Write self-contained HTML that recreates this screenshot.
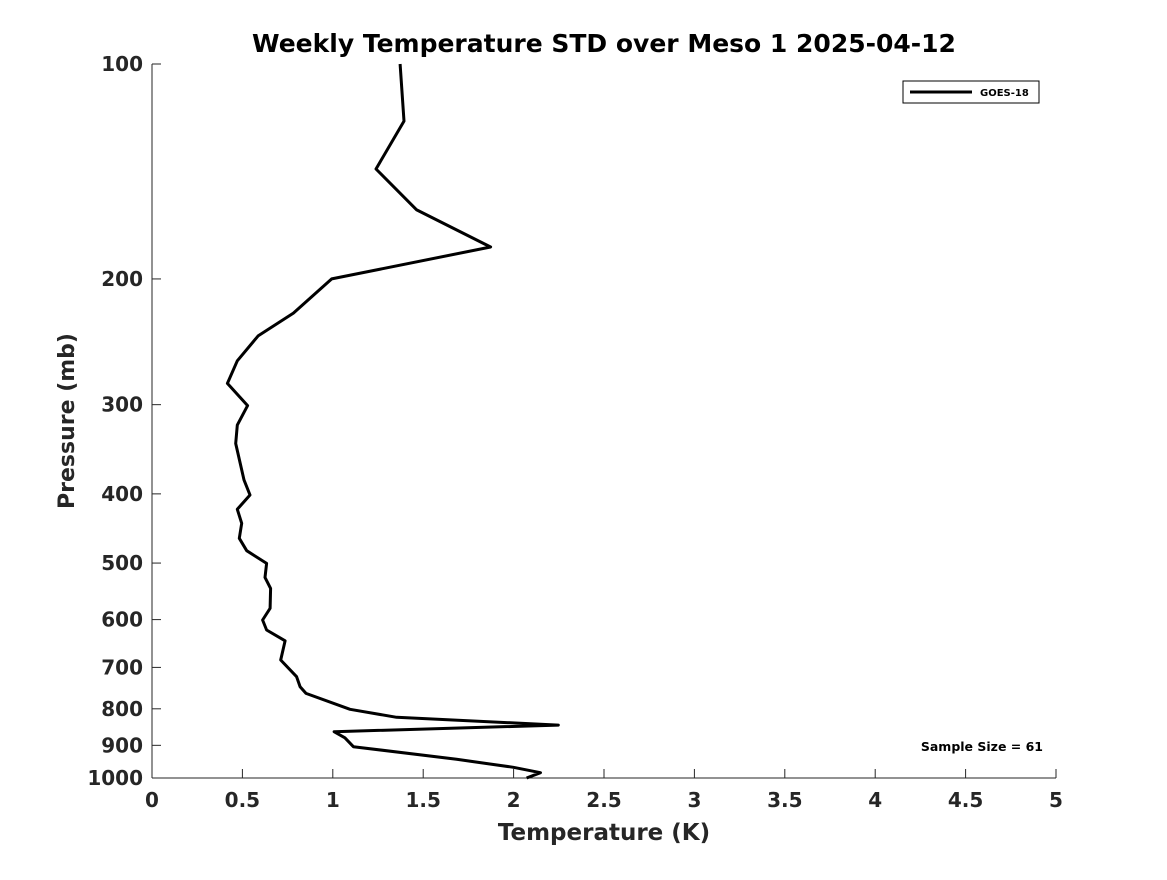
<!DOCTYPE html>
<html><head><meta charset="utf-8"><style>
body{margin:0;background:#fff;}
svg text{font-family:"DejaVu Sans","Liberation Sans",sans-serif;font-weight:bold;fill:#262626;}
</style></head><body>
<svg width="1167" height="875" xmlns="http://www.w3.org/2000/svg">
<rect width="1167" height="875" fill="#fff"/>
<text x="604" y="52" text-anchor="middle" font-size="25" style="fill:#000">Weekly Temperature STD over Meso 1 2025-04-12</text>
<g id="axes"></g>
<g id="series"></g>
<g>
<rect x="903" y="81" width="136" height="22" fill="#fff" stroke="#000" stroke-width="1"/>
<line x1="910" y1="92" x2="972" y2="92" stroke="#000" stroke-width="3"/>
<text x="980" y="96" font-size="10" style="fill:#000">GOES-18</text>
</g>
<text x="1043" y="751" text-anchor="end" font-size="12.5" style="fill:#000">Sample Size = 61</text>
<text x="604" y="840" text-anchor="middle" font-size="23">Temperature (K)</text>
<text transform="translate(74,421) rotate(-90)" text-anchor="middle" font-size="22">Pressure (mb)</text>
</svg>
<script>
const temps=[1.372,1.394,1.239,1.464,1.873,0.994,0.782,0.588,0.472,0.417,0.529,0.472,0.463,0.509,0.542,0.472,0.496,0.483,0.524,0.634,0.625,0.656,0.653,0.612,0.634,0.736,0.712,0.8,0.819,0.852,1.095,1.353,2.247,1.007,1.067,1.114,1.685,1.999,2.149,2.072];
const pressures=[100,120.2,140.3,160.1,180.4,200,223.3,240.2,260.4,280.1,300.9,320.4,340,382.4,401.5,420.4,439.8,461.6,480.4,500.6,523.6,542.5,578.6,600.8,620.5,642.4,683.5,721.3,745,761.2,801.3,822.2,843.1,861.4,878.4,903.9,941.4,966,982.9,1000];
const xTicks=[0,0.5,1,1.5,2,2.5,3,3.5,4,4.5,5];
const yTicks=[100,200,300,400,500,600,700,800,900,1000];
const X0=152,X1=1056,Y0=64,Y1=778;
function xs(v){return X0+(v-0)/5*(X1-X0);}
function ys(p){return Y0+Math.log10(p/100)*(Y1-Y0);}
const NS='http://www.w3.org/2000/svg';
const ax=document.getElementById('axes');
function mk(t,a,parent){const e=document.createElementNS(NS,t);for(const k in a)e.setAttribute(k,a[k]);parent.appendChild(e);return e;}
const xl=mk('line',{x1:X0,y1:Y1,x2:X1,y2:Y1,stroke:'#262626','stroke-width':1},ax);


const yl=mk('line',{x1:X0,y1:Y0,x2:X0,y2:Y1,stroke:'#262626','stroke-width':1},ax);


xTicks.forEach(v=>{const x=xs(v);
mk('line',{x1:x,y1:Y1,x2:x,y2:Y1-9,stroke:'#262626','stroke-width':1},ax);
const t=mk('text',{x:x,y:Y1+29,'text-anchor':'middle','font-size':20},ax);t.textContent=String(v);

});
yTicks.forEach(v=>{const y=ys(v);
mk('line',{x1:X0,y1:y,x2:X0+9,y2:y,stroke:'#262626','stroke-width':1},ax);
const t=mk('text',{x:X0-9,y:y+7,'text-anchor':'end','font-size':20},ax);t.textContent=String(v);

});
const pts=temps.map((t,i)=>xs(t).toFixed(1)+','+ys(pressures[i]).toFixed(1)).join(' ');
const pl=mk('polyline',{points:pts,fill:'none',stroke:'#000','stroke-width':3,'stroke-linejoin':'round'},document.getElementById('series'));


</script>
</body></html>
